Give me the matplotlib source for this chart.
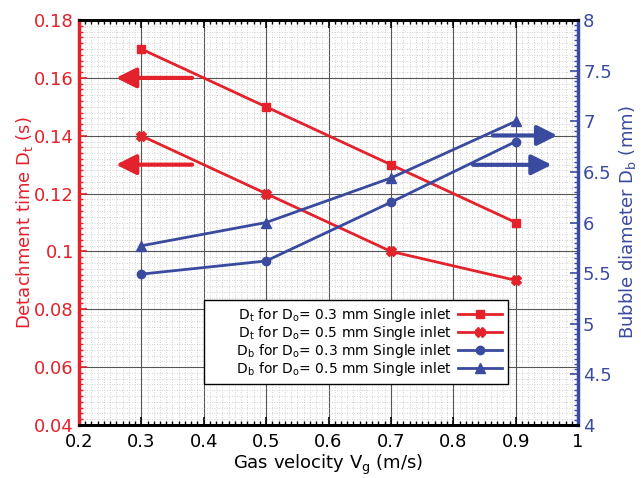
# Detachment time and bubble diameter vs gas velocity (twin y axes)
import numpy as np
import matplotlib.pyplot as plt
from matplotlib.ticker import MultipleLocator

RED = '#e3222b'
BLUE = '#3a4a9f'

# data
vg = [0.3, 0.5, 0.7, 0.9]
dt_03 = [0.17, 0.15, 0.13, 0.11]
dt_05 = [0.14, 0.12, 0.10, 0.09]
db_03 = [5.49, 5.62, 6.20, 6.80]
db_05 = [5.77, 6.00, 6.44, 7.00]

labels = [r'      D$_\mathrm{t}$ for D$_\mathrm{o}$= 0.3 mm Single inlet',
          r'      D$_\mathrm{t}$ for D$_\mathrm{o}$= 0.5 mm Single inlet',
          r'      D$_\mathrm{b}$ for D$_\mathrm{o}$= 0.3 mm Single inlet',
          r'      D$_\mathrm{b}$ for D$_\mathrm{o}$= 0.5 mm Single inlet']

fig = plt.figure(figsize=(6.41, 4.78), dpi=100)
ax = fig.add_axes([0.123, 0.111, 0.779, 0.847])
ax2 = ax.twinx()

h1, = ax.plot(vg, dt_03, color=RED, lw=2, marker='s', ms=6)
h2, = ax.plot(vg, dt_05, color=RED, lw=2, marker='X', ms=7)
h3, = ax2.plot(vg, db_03, color=BLUE, lw=2, marker='o', ms=6)
h4, = ax2.plot(vg, db_05, color=BLUE, lw=2, marker='^', ms=7)

# axes limits / ticks
ax.set_xlim(0.2, 1.0)
ax.set_ylim(0.04, 0.18)
ax2.set_ylim(4, 8)
ax.xaxis.set_major_locator(MultipleLocator(0.1))
ax.xaxis.set_minor_locator(MultipleLocator(0.01))
ax.yaxis.set_major_locator(MultipleLocator(0.02))
ax.yaxis.set_minor_locator(MultipleLocator(0.002))
ax2.yaxis.set_major_locator(MultipleLocator(0.5))
ax2.yaxis.set_minor_locator(MultipleLocator(0.05))
ax.xaxis.set_major_formatter(plt.FuncFormatter(lambda v, p: f'{v:g}'))
ax.yaxis.set_major_formatter(plt.FuncFormatter(lambda v, p: f'{v:g}'))
ax2.yaxis.set_major_formatter(plt.FuncFormatter(lambda v, p: f'{v:g}'))

ax.grid(which='major', color='#555555', lw=0.8)
ax.grid(which='minor', color='#c4c4c4', lw=0.6, ls=(0, (1, 2)))
ax.set_axisbelow(True)

ax.tick_params(which='both', direction='in', top=True, labelsize=13)
ax.tick_params(which='major', length=6, width=1.2)
ax.tick_params(which='minor', length=3, width=1)
ax.tick_params(axis='x', which='major', pad=6)
ax.tick_params(axis='y', colors=RED, which='both')
ax2.tick_params(which='both', direction='in', colors=BLUE, labelsize=13)
ax2.tick_params(which='major', length=6, width=1.2)
ax2.tick_params(which='minor', length=3, width=1)

for s in ['top', 'bottom']:
    ax.spines[s].set_linewidth(2)
    ax2.spines[s].set_linewidth(2)
ax2.spines['left'].set_color(RED)
ax2.spines['left'].set_linewidth(2.5)
ax2.spines['right'].set_color(BLUE)
ax2.spines['right'].set_linewidth(2.5)

ax.set_xlabel(r'Gas velocity V$_\mathrm{g}$ (m/s)', fontsize=13, labelpad=1)
ax.set_ylabel(r'Detachment time D$_\mathrm{t}$ (s)', fontsize=13, color=RED,
              labelpad=-1)
ax2.set_ylabel(r'Bubble diameter D$_\mathrm{b}$ (mm)', fontsize=13, color=BLUE,
               labelpad=4)

# direction arrows
arrow_kw = dict(arrowstyle='-|>', lw=3, mutation_scale=30)
ax.annotate('', xy=(0.255, 0.16), xytext=(0.386, 0.16),
            arrowprops=dict(color=RED, **arrow_kw))
ax.annotate('', xy=(0.255, 0.13), xytext=(0.386, 0.13),
            arrowprops=dict(color=RED, **arrow_kw))
ax2.annotate('', xy=(0.971, 6.86), xytext=(0.859, 6.86),
             arrowprops=dict(color=BLUE, **arrow_kw))
ax2.annotate('', xy=(0.962, 6.57), xytext=(0.827, 6.57),
             arrowprops=dict(color=BLUE, **arrow_kw))

leg = ax2.legend([h1, h2, h3, h4], labels, loc='lower right',
                 bbox_to_anchor=(0.86, 0.101), markerfirst=False,
                 fontsize=10, fancybox=False, framealpha=1,
                 edgecolor='black', handlelength=3.2, handletextpad=0.4,
                 labelspacing=0.0, borderpad=0.45, borderaxespad=0)
leg.get_frame().set_linewidth(1)
for t in leg.get_texts():
    t.set_ha('right')

fig.savefig('out.png', dpi=100)
